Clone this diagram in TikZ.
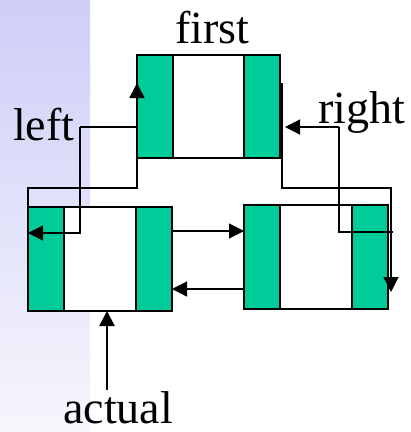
\documentclass[tikz,border=0pt]{standalone}
\usepackage{fontspec}
\setmainfont{Liberation Serif}
\usetikzlibrary{arrows.meta}

\definecolor{cellgreen}{RGB}{0,204,153}
\definecolor{bandtop}{RGB}{206,206,248}
\definecolor{bandbot}{RGB}{246,246,252}

\tikzset{
  cell/.style={draw, line width=1.4pt, fill=white, inner sep=0pt, outer sep=0pt,
    minimum width=144pt, minimum height=104pt,
    path picture={
      \fill[cellgreen] (path picture bounding box.south west)
        rectangle ([xshift=36pt]path picture bounding box.north west);
      \fill[cellgreen] (path picture bounding box.south east)
        rectangle ([xshift=-36pt]path picture bounding box.north east);
      \draw[line width=1.4pt] ([xshift=36pt]path picture bounding box.south west)
        -- ([xshift=36pt]path picture bounding box.north west);
      \draw[line width=1.4pt] ([xshift=-36pt]path picture bounding box.south east)
        -- ([xshift=-36pt]path picture bounding box.north east);
    }},
  link/.style={draw, line width=1.2pt},
  ptr/.style={link, -{Triangle[length=15pt,width=15pt]}},
  lbl/.style={font=\fontsize{46pt}{50pt}\selectfont, inner sep=0pt, anchor=base west},
}

\begin{document}
\begin{tikzpicture}[x=1pt, y=-1pt]
  % canvas and the lavender band on the left
  \useasboundingbox (0,0) rectangle (411,432);
  \fill[white] (0,0) rectangle (411,432);
  \shade[top color=bandtop, bottom color=bandbot] (0,0) rectangle (90,432);

  % list cells
  \node[cell, minimum width=143pt, minimum height=103pt] (top) at (208.5,106.5) {};
  \node[cell] (L) at (100,259) {};
  \node[cell] (R) at (316,257) {};

  % labels
  \node[lbl] (firstlbl) at (175,43) {first};
  \node[lbl] (leftlbl) at (13,140) {left};
  \node[lbl] (rightlbl) at (318,123) {right};
  \node[lbl] (actuallbl) at (63,423) {actual};

  % bend points of the connectors
  \coordinate (lbend) at (80,127);
  \coordinate (lrow)  at (0,233);
  \coordinate (upbend) at (137,188);
  \coordinate (uptip)  at (137,83);
  \coordinate (rbend) at (339,127);
  \coordinate (rtip)  at (285,127);
  \coordinate (rend)  at (393,232);
  \coordinate (dntop) at (282,83);
  \coordinate (dnbend) at (282,188);
  \coordinate (dncorner) at (391,188);
  \coordinate (dntip) at (391,292);
  \coordinate (nextrow) at (0,231);
  \coordinate (prevrow) at (0,289);
  \coordinate (actfoot) at (107,390);

  % "left" pointer into the left cell
  \draw[link] (top.west |- lbend) -- (lbend);
  \draw[ptr] (lbend) |- (L.west |- lrow);

  % from the left cell up to the top cell
  \draw[ptr, line width=1.7pt] (L.north west) |- (upbend) -- (uptip);

  % "right" pointer
  \draw[ptr] (rbend) -- (rtip);
  \draw[link] (rbend) |- (rend);

  % from the top cell down into the right cell
  \draw[ptr] (dntop) -- (dnbend) -- (dncorner) -- (dntip);

  % links between the two lower cells
  \draw[ptr] (L.east |- nextrow) -- (R.west |- nextrow);
  \draw[ptr] (R.west |- prevrow) -- (L.east |- prevrow);

  % "actual" pointer
  \draw[ptr, line width=2.6pt] (actfoot) -- (L.south -| actfoot);
\end{tikzpicture}
\end{document}
